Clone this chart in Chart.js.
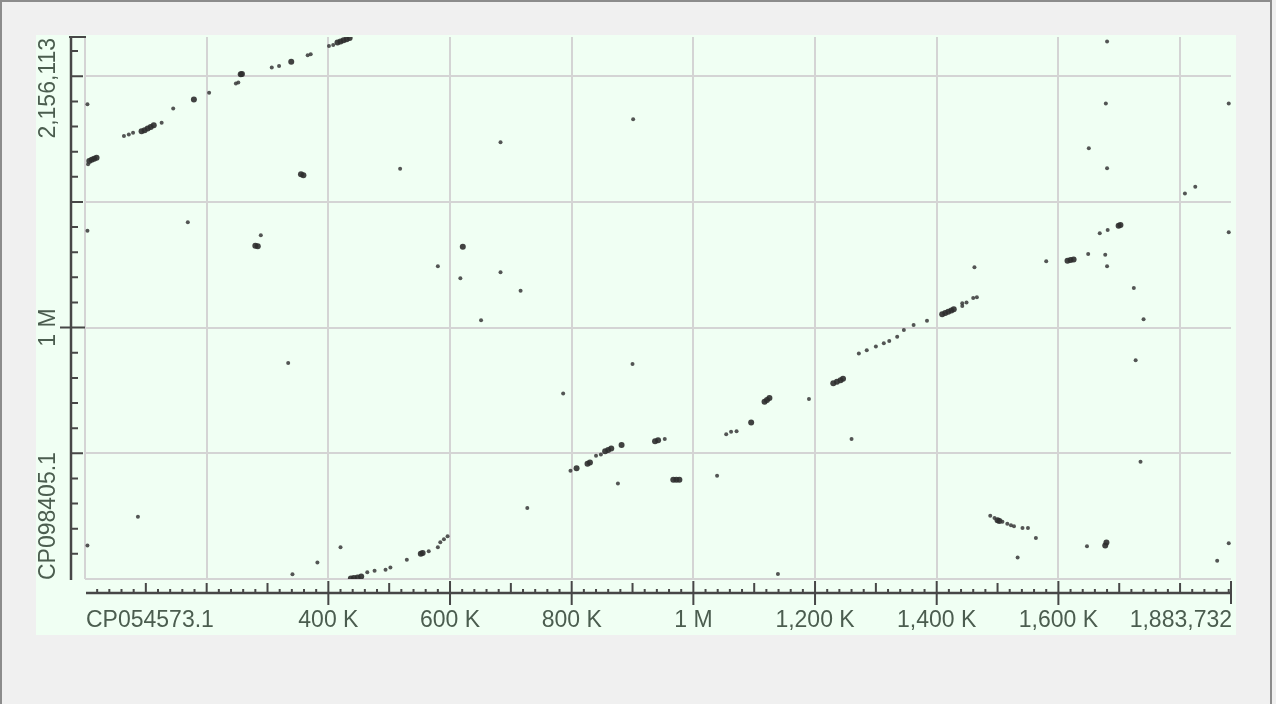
<!DOCTYPE html>
<html>
<head>
<meta charset="utf-8">
<script src="https://cdn.jsdelivr.net/npm/chart.js@4"></script>
<style>
  html, body { margin: 0; padding: 0; background: #f0f0f0; }
  #wrap { width: 1276px; height: 704px; }
</style>
</head>
<body>
<div id="wrap"><canvas id="dotplot" width="1276" height="704"></canvas></div>
<script>
// sequence lengths (bp)
const xLength = 1883732;
const yLength = 2156113;
const xName = "CP054573.1";
const yName = "CP098405.1";
const xGridStep = 200000;
const yGridStep = 500000;

// labelled ticks
const xTickValues = [400000, 600000, 800000, 1000000, 1200000, 1400000, 1600000];
const xTickLabels = ["400 K", "600 K", "800 K", "1 M", "1,200 K", "1,400 K", "1,600 K"];
const yTickValues = [1000000];
const yTickLabels = ["1 M"];
const xEndLabel = "1,883,732";
const yEndLabel = "2,156,113";

// single hits, in kb
const hitX = [4, 5, 64, 72, 79, 126, 145, 204, 248, 252, 307, 319, 366, 371, 401, 408,
  518, 169, 289, 580, 617, 4, 683, 901, 683, 716, 651,
  1680, 1678, 1880, 1650, 1680, 1808, 1825, 1880, 1668, 1681, 1649, 1677, 1680, 1580, 1724,
  1462, 1442, 1449, 1466, 1460,
  334, 87, 4, 341, 382, 420, 464, 476, 494, 502, 529, 565, 580, 584, 590, 596,
  786, 900, 727, 876, 798, 840, 848, 953, 1039, 1054, 1062, 1071, 1190, 1260, 1139,
  1272, 1285, 1300, 1313, 1322, 1335, 1346, 1362, 1384, 1442,
  1740, 1727, 1735, 1541, 1550, 1563, 1533, 1647, 1861, 1880,
  1488, 1495, 1508, 1516, 1522, 1527];
const hitY = [1889, 1650, 1762, 1768, 1775, 1815, 1872, 1934, 1971, 1975, 2035, 2041, 2084, 2087, 2120, 2124,
  1632, 1419, 1367, 1244, 1196, 1385, 1737, 1829, 1220, 1147, 1029,
  2138, 1892, 1892, 1714, 1634, 1534, 1560, 1379, 1375, 1388, 1293, 1290, 1244, 1264, 1158,
  1240, 1097, 1100, 1121, 1118,
  859, 248, 133, 19, 66, 126, 27, 33, 37, 46, 77, 110, 126, 146, 158, 170,
  738, 855, 282, 380, 431, 490, 495, 557, 411, 576, 586, 588, 716, 557, 20,
  897, 910, 925, 938, 947, 964, 991, 1010, 1027, 1086,
  1033, 870, 466, 203, 203, 163, 86, 130, 73, 142,
  252, 243, 228, 220, 214, 210];

// dense runs of hits, in kb
const runX = [7, 11, 15, 19, 93, 98, 103, 108, 113, 179, 256, 258, 339,
  415, 420, 425, 430, 435, 355, 359, 280, 284, 621,
  437, 442, 448, 454, 552, 555,
  808, 826, 830, 855, 860, 865, 882, 937, 942, 967, 972, 977, 1095, 1117, 1121, 1125,
  1230, 1236, 1242, 1246, 1409, 1414, 1419, 1424, 1428,
  1699, 1702, 1615, 1620, 1625, 1500, 1503, 1677, 1679];
const runY = [1663, 1668, 1672, 1676, 1781, 1785, 1792, 1798, 1805, 1907, 2008, 2009, 2058,
  2134, 2138, 2143, 2147, 2152, 1610, 1606, 1326, 1324, 1322,
  2, 4, 6, 10, 100, 103,
  441, 458, 463, 508, 513, 519, 533, 548, 552, 395, 395, 395, 623, 705, 712, 720,
  779, 785, 791, 797, 1053, 1058, 1063, 1068, 1073,
  1405, 1408, 1266, 1269, 1271, 234, 231, 133, 145];

const toPoints = (xs, ys) => xs.map((v, i) => ({ x: v * 1000, y: ys[i] * 1000 }));

const labelColor = "#4b5d4f";
const axisColor = "#474747";
const labelFont = "23px 'Liberation Sans', Arial, sans-serif";

// grid every step from 0, without the end bound
function stepTicks(step, max) {
  const out = [];
  for (let v = 0; v < max; v += step) out.push({ value: v });
  return out;
}

const dotAxes = {
  id: "dotAxes",
  beforeDraw(chart) {
    const { ctx, chartArea: a } = chart;
    ctx.save();
    ctx.fillStyle = "#f0f0f0";
    ctx.fillRect(0, 0, chart.width, chart.height);
    ctx.fillStyle = "#8c8c8c";
    ctx.fillRect(0, 0, 2, chart.height);
    ctx.fillRect(0, 0, 1272, 2);
    ctx.fillRect(1270, 0, 2, chart.height);
    ctx.fillStyle = "#f0fff3";
    ctx.fillRect(a.left - 49, a.top - 2, a.right - a.left + 54, a.bottom - a.top + 58);
    ctx.restore();
  },
  afterDraw(chart) {
    const { ctx, chartArea: a } = chart;
    const sx = chart.scales.x;
    const sy = chart.scales.y;
    const axY = a.bottom + 14;
    const axX = a.left - 14;
    ctx.save();
    ctx.strokeStyle = axisColor;
    ctx.lineWidth = 2.5;
    ctx.beginPath();
    ctx.moveTo(a.left + 1, axY);
    ctx.lineTo(sx.getPixelForValue(xLength), axY);
    ctx.moveTo(axX, sy.getPixelForValue(yLength));
    ctx.lineTo(axX, a.bottom + 1);
    ctx.stroke();

    ctx.lineWidth = 2;
    ctx.beginPath();
    for (let v = 20000; v <= xLength; v += 20000) {
      const p = sx.getPixelForValue(v);
      const len = v % 100000 === 0 ? 10 : 4;
      ctx.moveTo(p, axY);
      ctx.lineTo(p, axY - len);
    }
    xTickValues.forEach((v) => {
      const p = sx.getPixelForValue(v);
      ctx.moveTo(p, axY - 12);
      ctx.lineTo(p, axY + 12);
    });
    let pe = sx.getPixelForValue(xLength);
    ctx.moveTo(pe, axY - 12);
    ctx.lineTo(pe, axY + 11);

    for (let v = 100000; v <= yLength; v += 100000) {
      const p = sy.getPixelForValue(v);
      const len = v % 500000 === 0 ? 12 : 7;
      ctx.moveTo(axX, p);
      ctx.lineTo(axX + len, p);
    }
    yTickValues.forEach((v) => {
      const p = sy.getPixelForValue(v);
      ctx.moveTo(axX - 11, p);
      ctx.lineTo(axX + 14, p);
    });
    pe = sy.getPixelForValue(yLength);
    ctx.moveTo(axX - 2, pe);
    ctx.lineTo(axX + 15, pe);
    ctx.stroke();

    ctx.fillStyle = labelColor;
    ctx.font = labelFont;
    ctx.textBaseline = "middle";
    const ly = a.bottom + 42;
    ctx.textAlign = "center";
    xTickValues.forEach((v, i) => ctx.fillText(xTickLabels[i], sx.getPixelForValue(v), ly));
    ctx.textAlign = "left";
    ctx.fillText(xName, a.left + 1, ly);
    ctx.textAlign = "right";
    ctx.fillText(xEndLabel, sx.getPixelForValue(xLength) + 1, ly);

    const lx = a.left - 36;
    const rot = (txt, py, align) => {
      ctx.save();
      ctx.translate(lx, py);
      ctx.rotate(-Math.PI / 2);
      ctx.textAlign = align;
      ctx.fillText(txt, 0, 0);
      ctx.restore();
    };
    yTickValues.forEach((v, i) => rot(yTickLabels[i], sy.getPixelForValue(v), "center"));
    rot(yName, a.bottom + 1, "left");
    rot(yEndLabel, sy.getPixelForValue(yLength) + 1, "right");
    ctx.restore();
  },
};

new Chart(document.getElementById("dotplot"), {
  type: "scatter",
  data: {
    datasets: [
      {
        label: "hits",
        data: toPoints(hitX, hitY),
        pointRadius: 2,
        pointBorderWidth: 0,
        pointBackgroundColor: "rgba(55, 55, 55, 0.85)",
      },
      {
        label: "runs",
        data: toPoints(runX, runY),
        pointRadius: 3,
        pointBorderWidth: 0,
        pointBackgroundColor: "rgba(45, 45, 45, 0.9)",
      },
    ],
  },
  options: {
    responsive: false,
    animation: false,
    layout: { padding: { left: 85, right: 45, top: 37, bottom: 125 } },
    plugins: { legend: { display: false }, tooltip: { enabled: false } },
    scales: {
      x: {
        type: "linear",
        min: 0,
        max: xLength,
        ticks: { display: false },
        grid: { color: "#d4d4d4", lineWidth: 2, drawTicks: false },
        border: { display: false },
        afterBuildTicks: (s) => { s.ticks = stepTicks(xGridStep, xLength); },
        afterFit: (s) => { s.height = 0; },
      },
      y: {
        type: "linear",
        min: 0,
        max: yLength,
        ticks: { display: false },
        grid: { color: "#d4d4d4", lineWidth: 2, drawTicks: false },
        border: { display: false },
        afterBuildTicks: (s) => { s.ticks = stepTicks(yGridStep, yLength); },
        afterFit: (s) => { s.width = 0; },
      },
    },
  },
  plugins: [dotAxes],
});
</script>
</body>
</html>
